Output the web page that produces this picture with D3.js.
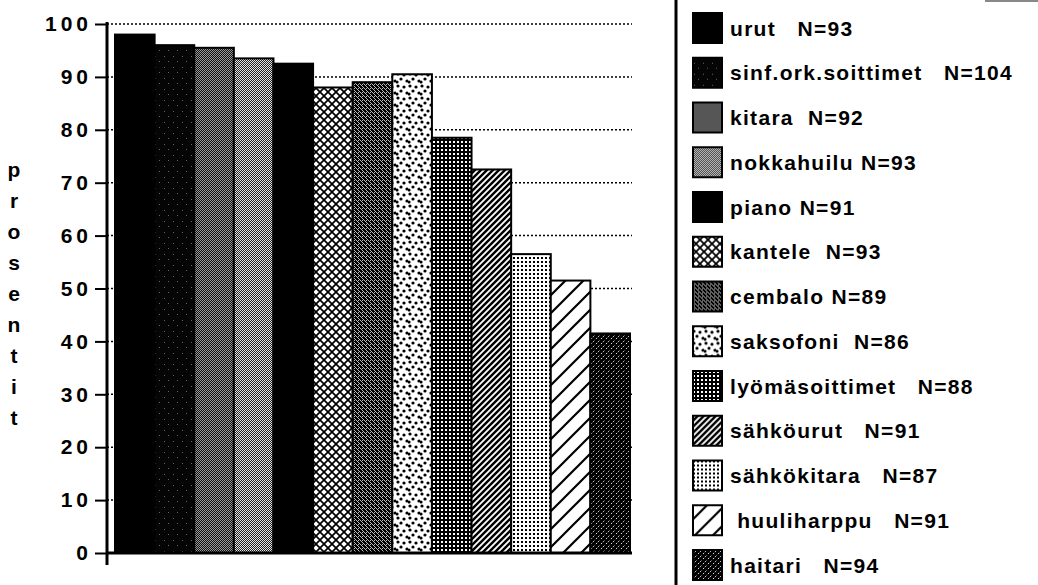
<!DOCTYPE html>
<html>
<head>
<meta charset="utf-8">
<script src="https://cdn.jsdelivr.net/npm/d3@7"></script>
<style>
  body { margin: 0; background: #fff; }
  svg { display: block; }
  text { font-family: "Liberation Sans", Arial, sans-serif; font-weight: bold; fill: #000; }
</style>
</head>
<body>
<div class="graph"></div>
<script>
// data
var instruments = ["urut", "sinf.ork.soittimet", "kitara", "nokkahuilu", "piano", "kantele", "cembalo",
                   "saksofoni", "lyömäsoittimet", "sähköurut", "sähkökitara", "huuliharppu", "haitari"];
var percents = [98, 96, 95.5, 93.5, 92.5, 88, 89, 90.5, 78.5, 72.5, 56.5, 51.5, 41.5];
var legendLabels = ["urut   N=93", "sinf.ork.soittimet   N=104", "kitara  N=92", "nokkahuilu N=93",
                    "piano N=91", "kantele  N=93", "cembalo N=89", "saksofoni  N=86",
                    "lyömäsoittimet   N=88", "sähköurut   N=91", "sähkökitara   N=87",
                    " huuliharppu   N=91", "haitari   N=94"];
var yTicks = [0, 10, 20, 30, 40, 50, 60, 70, 80, 90, 100];
var axisTitle = "prosentit";

var width = 1038, height = 585;

var svg = d3.select(".graph").append("svg")
  .attr("width", width)
  .attr("height", height);

var defs = svg.append("defs");

// fill patterns, one per instrument
function pat(id, w, h, bg) {
  var p = defs.append("pattern").attr("id", id)
    .attr("patternUnits", "userSpaceOnUse")
    .attr("width", w).attr("height", h);
  p.append("rect").attr("width", w).attr("height", h).attr("fill", bg);
  return p;
}
function px(p, pts, col, s) {
  pts.forEach(function(q) {
    p.append("rect").attr("x", q[0]).attr("y", q[1]).attr("width", s || 1).attr("height", s || 1).attr("fill", col);
  });
}

pat("p0", 4, 4, "#000");

var p1 = pat("p1", 9, 11, "#050505");
px(p1, [[2, 1], [6, 6]], "#666");

var p2 = pat("p2", 2, 2, "#111");
px(p2, [[0, 0], [1, 1]], "#9a9a9a");

var p3 = pat("p3", 2, 2, "#222");
px(p3, [[0, 0], [1, 1]], "#e6e6e6");

pat("p4", 4, 4, "#000");

var p5 = pat("p5", 8, 8, "#000");
[[0, 0], [8, 0], [0, 8], [8, 8], [4, 4]].forEach(function(c) {
  p5.append("path")
    .attr("d", "M" + (c[0] - 2.8) + "," + c[1] + "L" + c[0] + "," + (c[1] - 2.8) +
               "L" + (c[0] + 2.8) + "," + c[1] + "L" + c[0] + "," + (c[1] + 2.8) + "Z")
    .attr("fill", "#fff");
});

var p6 = pat("p6", 4, 4, "#000");
px(p6, [[0, 0], [1, 1], [2, 2], [3, 3], [2, 0]], "#bbb");

var p7 = pat("p7", 12, 12, "#fff");
[[2, 2], [8, 3], [5, 7], [11, 9], [1, 10]].forEach(function(c) {
  p7.append("circle").attr("cx", c[0]).attr("cy", c[1]).attr("r", 1.6).attr("fill", "#000");
});

var p8 = pat("p8", 4, 4, "#000");
px(p8, [[1, 1]], "#fff", 2);

var p9 = pat("p9", 6, 6, "#000");
p9.append("path").attr("d", "M-1,7L7,-1M-4,4L4,-4M2,10L10,2").attr("stroke", "#fff").attr("stroke-width", 1.8);

var p10 = pat("p10", 4, 4, "#fff");
px(p10, [[1, 1]], "#000", 2);

var p11 = pat("p11", 18, 18, "#fff");
p11.append("path").attr("d", "M-2,20L20,-2M-11,11L11,-11M7,29L29,7").attr("stroke", "#000").attr("stroke-width", 2.2);

var p12 = pat("p12", 5, 5, "#000");
p12.append("path").attr("d", "M-1,6L6,-1").attr("stroke", "#fff").attr("stroke-width", 1).attr("stroke-dasharray", "1.5,1.5");

var fills = instruments.map(function(d, i) { return "url(#p" + i + ")"; });

// scales
var x = d3.scaleBand().domain(instruments).range([115, 630]).padding(0);
var y = d3.scaleLinear().domain([0, 100]).range([553, 24]);

var axisX = 107, plotRight = 632;

// dotted gridlines
svg.append("g").selectAll("line")
  .data(yTicks.filter(function(t) { return t > 0; }))
  .enter().append("line")
  .attr("x1", axisX).attr("x2", plotRight)
  .attr("y1", function(d) { return y(d); })
  .attr("y2", function(d) { return y(d); })
  .attr("stroke", "#000")
  .attr("stroke-width", 1.5)
  .attr("stroke-dasharray", "2,2");

// bars
svg.append("g").selectAll("rect")
  .data(percents)
  .enter().append("rect")
  .attr("x", function(d, i) { return x(instruments[i]); })
  .attr("y", function(d) { return y(d); })
  .attr("width", x.bandwidth())
  .attr("height", function(d) { return y(0) - y(d); })
  .attr("fill", function(d, i) { return fills[i]; })
  .attr("stroke", "#000")
  .attr("stroke-width", 2);

// y axis
var yAxis = d3.axisLeft(y).tickValues(yTicks).tickSize(12).tickPadding(8);
var ya = svg.append("g")
  .attr("transform", "translate(" + axisX + ",0)")
  .call(yAxis);
ya.select(".domain").remove();
ya.selectAll(".tick line").attr("stroke", "#000").attr("stroke-width", 2);
ya.selectAll(".tick text")
  .attr("font-family", "DejaVu Sans, sans-serif")
  .attr("font-weight", "bold")
  .attr("font-size", 21)
  .attr("letter-spacing", 4)
  .attr("dx", 5)
  .attr("fill", "#000");

svg.append("line")
  .attr("x1", axisX).attr("x2", axisX)
  .attr("y1", y(100) - 2).attr("y2", y(0) + 12)
  .attr("stroke", "#000").attr("stroke-width", 3);
svg.append("line")
  .attr("x1", axisX).attr("x2", plotRight)
  .attr("y1", y(0)).attr("y2", y(0))
  .attr("stroke", "#000").attr("stroke-width", 3);

// vertical axis title, one letter per line
svg.append("g").selectAll("text")
  .data(axisTitle.split(""))
  .enter().append("text")
  .attr("x", 14)
  .attr("y", function(d, i) { return 170 + i * 31; })
  .attr("text-anchor", "middle")
  .attr("dy", "0.35em")
  .attr("font-size", 21)
  .text(function(d) { return d; });

// legend
svg.append("line")
  .attr("x1", 676).attr("x2", 676)
  .attr("y1", 0).attr("y2", height)
  .attr("stroke", "#000").attr("stroke-width", 3);
svg.append("line")
  .attr("x1", 985).attr("x2", width)
  .attr("y1", 1).attr("y2", 1)
  .attr("stroke", "#888").attr("stroke-width", 2);

var legend = svg.append("g").selectAll("g")
  .data(legendLabels)
  .enter().append("g")
  .attr("transform", function(d, i) { return "translate(692," + (28 + i * 44.75) + ")"; });

legend.append("rect")
  .attr("x", 1).attr("y", -15)
  .attr("width", 29).attr("height", 30)
  .attr("fill", function(d, i) { return fills[i]; })
  .attr("stroke", "#000")
  .attr("stroke-width", 2);

legend.append("text")
  .attr("x", 38)
  .attr("dy", "0.36em")
  .attr("font-size", 21)
  .attr("letter-spacing", 1.3)
  .style("white-space", "pre")
  .text(function(d) { return d; });
</script>
</body>
</html>
